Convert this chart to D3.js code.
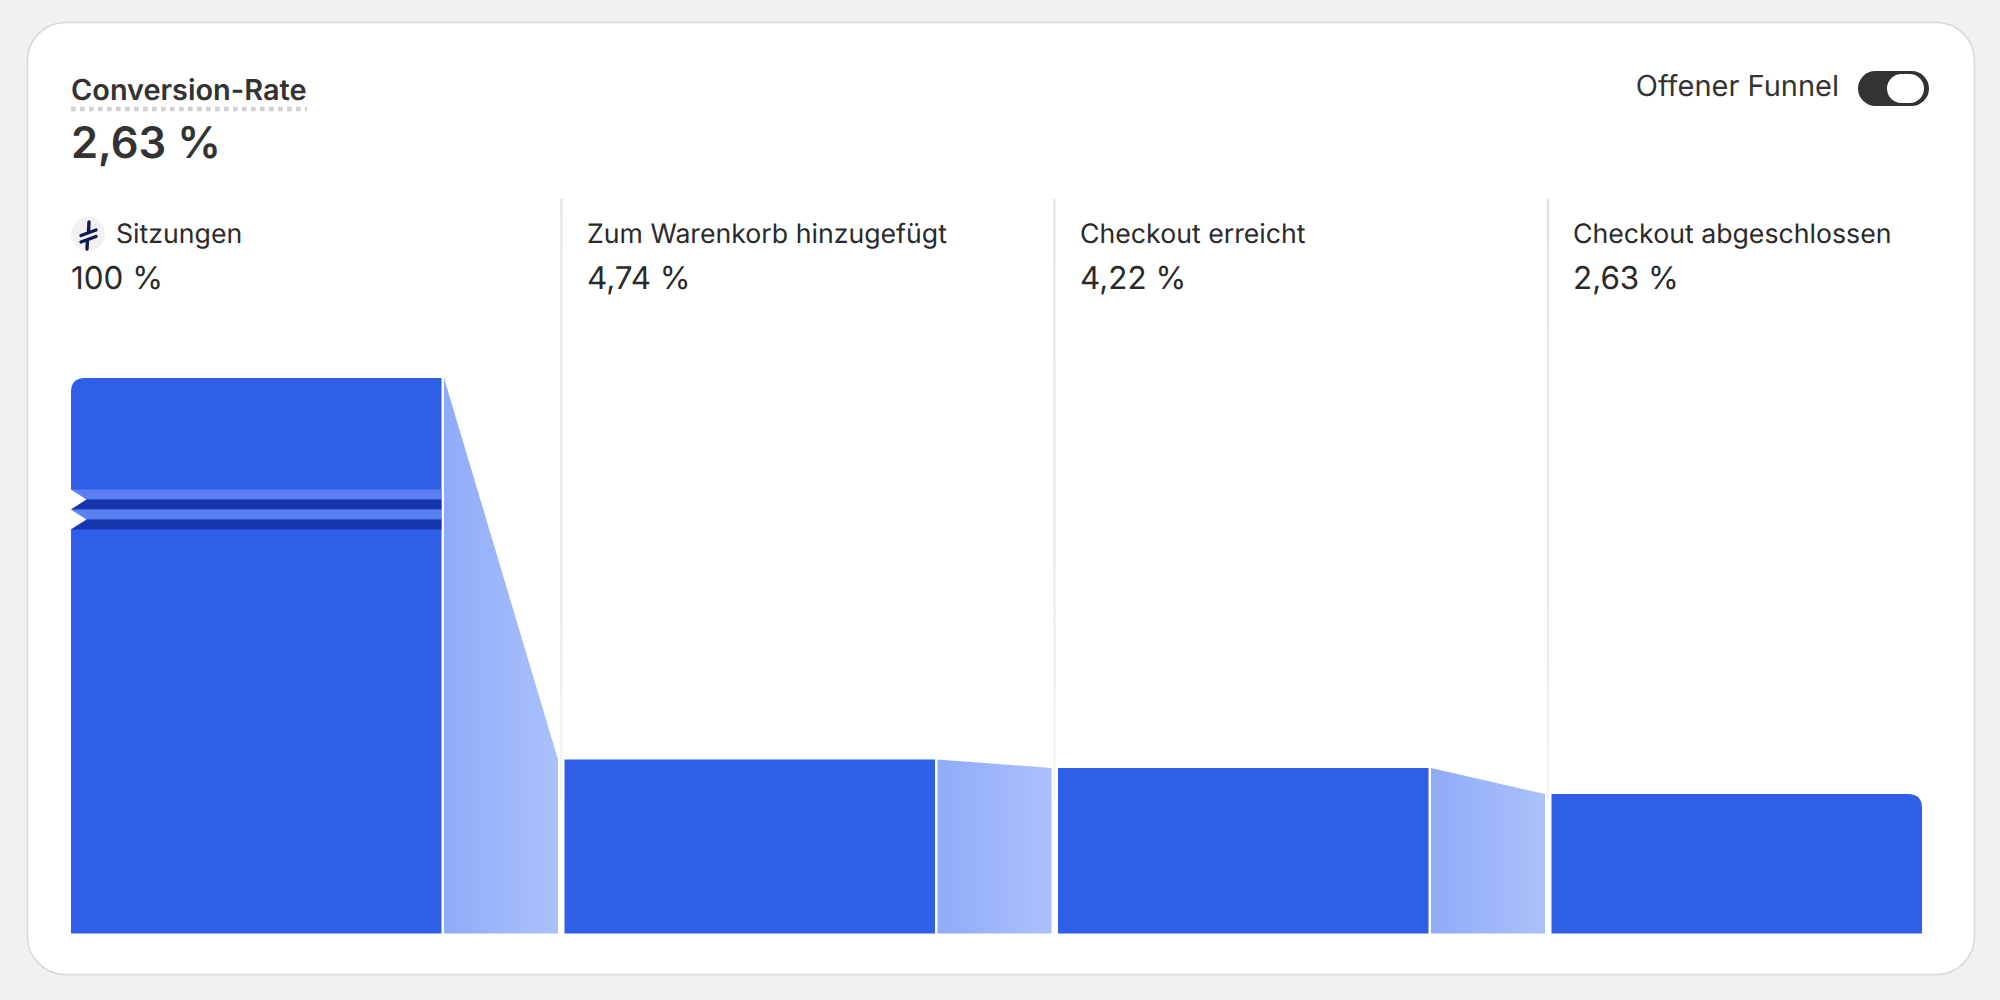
<!DOCTYPE html>
<html><head><meta charset="utf-8">
<script src="https://cdn.jsdelivr.net/npm/d3@7/dist/d3.min.js"></script>
<style>html,body{margin:0;padding:0;background:#f1f1f1}svg{display:block}text{font-family:Inter,"Noto Sans",sans-serif;text-rendering:geometricPrecision}</style>
</head><body><svg id="c" width="2000" height="1000"></svg>
<script>
const steps = ["Sitzungen","Zum Warenkorb hinzugefügt","Checkout erreicht","Checkout abgeschlossen"];
const rates = [100,4.74,4.22,2.63];
const rateLabels = ["100 %","4,74 %","4,22 %","2,63 %"];
const title = "Conversion-Rate";
const overall = "2,63 %";
const toggleLabel = "Offener Funnel";

const svg = d3.select("#c");
const defs = svg.append("defs");
const grad = defs.append("linearGradient").attr("id","conn");
grad.append("stop").attr("offset","0%").attr("stop-color","#8fabf9");
grad.append("stop").attr("offset","100%").attr("stop-color","#abc1fb");
const fade = defs.append("linearGradient").attr("id","fade").attr("gradientUnits","userSpaceOnUse").attr("x1",0).attr("x2",0).attr("y1",199).attr("y2",800);
fade.append("stop").attr("offset","0%").attr("stop-color","#e3e3e3");
fade.append("stop").attr("offset","70%").attr("stop-color","#e8e8e8");
fade.append("stop").attr("offset","100%").attr("stop-color","#f4f4f4");

// card
svg.append("rect").attr("x",27.5).attr("y",22.5).attr("width",1947).attr("height",952).attr("rx",38).attr("fill","#fff").attr("stroke","#d9d9d9").attr("stroke-width",1.5);

// scales: the value axis is broken between the low rates and the full 100 %
const base = 933.5;
const y = d3.scaleLinear().domain([0,4.74,100]).range([837,759.5,378]);
const colX = [71,564.5,1058,1551.5];
const barW = 370.5;
const textX = [71,587,1080,1573];

// separators
[561.3,1054.5,1548].forEach(lx=>svg.append("rect").attr("x",lx-1).attr("y",199).attr("width",2).attr("height",601).attr("fill","url(#fade)"));

// connectors
d3.range(3).forEach(i=>{
  const x0 = colX[i]+barW+2.5, x1 = colX[i+1]-6.5;
  const pts=[[x0,y(rates[i])],[x1,y(rates[i+1])],[x1,base],[x0,base]];
  svg.append("path").attr("d",d3.line()(pts)+"Z").attr("fill","url(#conn)");
});

// bars
const blue="#2f5fe8";
const r=14;
rates.forEach((v,i)=>{
  const t=y(v), x0=colX[i], x1=x0+barW;
  let p=d3.path();
  if(i==0){ p.moveTo(x0,base); p.lineTo(x0,t+r); p.quadraticCurveTo(x0,t,x0+r,t); p.lineTo(x1,t); p.lineTo(x1,base); p.closePath(); }
  else if(i==3){ p.moveTo(x0,base); p.lineTo(x0,t); p.lineTo(x1-r,t); p.quadraticCurveTo(x1,t,x1,t+r); p.lineTo(x1,base); p.closePath(); }
  else { p.moveTo(x0,base); p.lineTo(x0,t); p.lineTo(x1,t); p.lineTo(x1,base); p.closePath(); }
  svg.append("path").attr("d",p.toString()).attr("fill",blue);
});

// axis break on the first bar
const bandH=10, bandTop=489.5;
[0,1,2,3].forEach(k=>svg.append("rect").attr("x",71).attr("y",bandTop+k*bandH).attr("width",barW).attr("height",bandH).attr("fill",k%2?"#1736ad":"#5a80f2"));
[0,1].forEach(k=>{
  const t=bandTop+k*2*bandH;
  svg.append("path").attr("d",d3.line()([[70,t-.5],[86.5,t+bandH],[70,t+2*bandH+.5]])+"Z").attr("fill","#fff");
});

// header
const ink="#333333";
svg.append("text").attr("x",71).attr("y",100).attr("font-size",28.9).attr("font-weight",600).attr("fill",ink).text(title);
svg.append("line").attr("x1",71).attr("x2",307).attr("y1",109).attr("y2",109).attr("stroke","#cfcfcf").attr("stroke-width",4.5).attr("stroke-dasharray","4.6 4.4");
svg.append("text").attr("x",71).attr("y",158).attr("font-size",43.5).attr("font-weight",600).attr("fill",ink).text(overall);

// toggle
svg.append("text").attr("x",1839).attr("y",96).attr("text-anchor","end").attr("font-size",29).attr("fill",ink).text(toggleLabel);
svg.append("rect").attr("x",1858).attr("y",71).attr("width",71).attr("height",35).attr("rx",17.5).attr("fill",ink);
svg.append("rect").attr("x",1887).attr("y",74).attr("width",37).attr("height",29).attr("rx",14.5).attr("fill","#fff");

// column labels
const txt="#2a2a2a";
steps.forEach((s,i)=>{
  svg.append("text").attr("x",i==0?116:textX[i]).attr("y",243).attr("font-size",26.7).attr("fill",txt).text(s);
  svg.append("text").attr("x",textX[i]).attr("y",288.5).attr("font-size",31.4).attr("fill",txt).text(rateLabels[i]);
});

// icon
svg.append("circle").attr("cx",88).attr("cy",234).attr("r",17).attr("fill","#f1f1f4");
const nav="#0f1a4f";
svg.append("path").attr("d","M89 222 L88.5 232 M81 235.5 L96 230 M81 242 L96 236.5 M87.5 240 L87 249").attr("stroke",nav).attr("stroke-width",3.4).attr("stroke-linecap","round").attr("fill","none");
</script></body></html>
